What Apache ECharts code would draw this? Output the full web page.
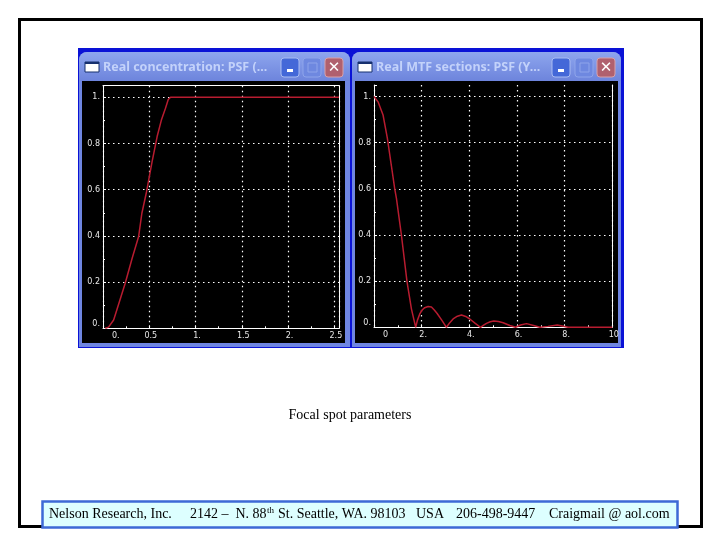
<!DOCTYPE html>
<html>
<head>
<meta charset="utf-8">
<title>Focal spot parameters</title>
<style>
html,body{margin:0;padding:0;background:#fff}
#chart{width:720px;height:540px}
</style>
<script src="https://cdn.jsdelivr.net/npm/echarts@6/dist/echarts.min.js"></script>
</head>
<body>
<div id="chart"></div>
<script>
// values
var concentrationX = [0.025,0.06,0.115,0.15,0.24,0.315,0.385,0.42,0.47,0.53,0.585,0.63,0.675,0.705,0.73,2.55];
var concentrationY = [0,0.005,0.036,0.08,0.195,0.303,0.397,0.498,0.59,0.72,0.83,0.90,0.952,0.99,1,1];
var mtfX = [0,0.08,0.17,0.38,0.56,0.73,0.87,0.94,1.15,1.385,1.57,1.75,1.82,1.92,2.02,2.13,2.27,2.41,2.53,2.65,2.85,3.04,3.18,3.32,3.5,3.67,3.85,4.02,4.25,4.47,4.6,4.72,4.88,5.03,5.22,5.42,5.7,5.94,6.15,6.4,6.7,6.96,7.3,7.69,7.9,8.15,10];
var mtfY = [1,0.995,0.977,0.92,0.82,0.70,0.60,0.56,0.40,0.198,0.08,0,0.03,0.058,0.075,0.085,0.09,0.088,0.075,0.06,0.03,0,0.02,0.036,0.048,0.053,0.047,0.036,0.017,0,0.009,0.017,0.024,0.027,0.025,0.02,0.008,0,0.01,0.016,0.008,0,0.004,0.01,0.006,0,0];
var leftXLabels = ['0.','0.5','1.','1.5','2.','2.5'];
var rightXLabels = ['0','2.','4.','6.','8.','10'];
var yLabels = ['0.','0.2','0.4','0.6','0.8','1.'];
var leftTitle = 'Real concentration: PSF (...';
var rightTitle = 'Real MTF sections: PSF (Y...';
var caption = 'Focal spot parameters';

function pairs(xs,ys){
    return xs.map(function(x,i){return [x,ys[i]]})
}

function makeXAxis(gridIndex,max,interval,labels,showMax){
    return {
        type:'value',gridIndex:gridIndex,min:0,max:max,interval:interval,
        axisLine:{show:true,onZero:false,lineStyle:{color:'#fff',width:1}},
        axisTick:{show:true,inside:true,length:3,lineStyle:{color:'#fff'}},
        minorTick:{show:true,splitNumber:2,length:2,lineStyle:{color:'#fff'}},
        splitLine:{show:true,lineStyle:{color:'#fff',width:1.2,type:[1.5,3.5]}},
        axisLabel:{
            color:'#e8e8e8',fontSize:8,margin:4,fontFamily:'DejaVu Sans',showMaxLabel:showMax,
            hideOverlap:false,alignMinLabel:'left',padding:[0,0,0,3],
            rich:{first:{padding:[0,0,0,6],fontSize:8,color:'#e8e8e8',fontFamily:'DejaVu Sans'}},
            formatter:function(v,i){return i===0?'{first|'+labels[i]+'}':labels[i]}
        }
    }
}

function makeYAxis(gridIndex){
    return {
        type:'value',gridIndex:gridIndex,min:0,max:1.05,interval:0.2,
        axisLine:{show:true,onZero:false,lineStyle:{color:'#fff',width:1}},
        axisTick:{show:true,inside:true,length:3,lineStyle:{color:'#fff'}},
        minorTick:{show:true,splitNumber:2,length:2,lineStyle:{color:'#fff'}},
        splitLine:{show:true,showMaxLine:false,lineStyle:{color:'#fff',width:1.2,type:[1.5,3.5]}},
        axisLabel:{
            color:'#e8e8e8',fontSize:8,margin:3,fontFamily:'DejaVu Sans',showMaxLabel:false,
            hideOverlap:false,verticalAlignMinLabel:'bottom',
            formatter:function(v,i){return yLabels[i]}
        }
    }
}

// bare axis used only as the white edge of a plot box
function edgeAxis(gridIndex,position,max){
    return {
        type:'value',gridIndex:gridIndex,position:position,min:0,max:max,
        axisLine:{show:true,onZero:false,lineStyle:{color:'#fff',width:1}},axisTick:{show:false},
        axisLabel:{show:false},splitLine:{show:false}
    }
}

function box(x,y,w,h,fill,r,stroke,lw){
    return {type:'rect',silent:true,shape:{x:x,y:y,width:w,height:h,r:r||0},
        style:{fill:fill,stroke:stroke||null,lineWidth:lw||0}}
}

function gradient(a,b){
    return new echarts.graphic.LinearGradient(0,0,0,1,[{offset:0,color:a},{offset:1,color:b}])
}

function label(x,y,text,font,fill,extra){
    return {type:'text',silent:true,x:x,y:y,style:Object.assign({text:text,font:font,fill:fill},extra||{})}
}

// one fake window: frame, title bar, icon, three buttons, black plot area
function makeWindow(x,w,plotX,plotW,title,titleX,minX,maxX,closeX){
    return [
        box(x,52,w,295,'#6f86e2',[8,8,0,0]),
        box(x,52,w,29,gradient('#8ea6ee','#6d84dc'),[8,8,0,0]),
        box(plotX,81,plotW,262,'#000'),
        box(titleX-18,62,14,10,'#fff',0,'#16306e',1),
        box(titleX-18,62,14,2,'#16306e'),
        label(titleX,61,title,'bold 12.5px "Noto Sans"','#c3d2fa'),
        box(minX,58,18,19,'#4468d8',3,'#a9bcf2',1),
        box(minX+6,69,6,3,'#fff'),
        box(maxX,58,18,19,'#6e88e0',3,'#8ea4ea',1),
        box(maxX+5,63,9,9,'#6e88e0',0,'#8ea4ea',1),
        box(closeX,58,18,19,'#b0606e',3,'#d8a0a8',1),
        label(closeX+9,68,'✕','bold 15px "DejaVu Sans"','#fff',{align:'center',verticalAlign:'middle'})
    ]
}

var elements = [
    box(19.5,19.5,682,507,'#fff',0,'#000',3),
    box(78,48,546,300,'#0a12d6')
]
.concat(makeWindow(79,271,82,263,leftTitle,103,281,303,325))
.concat(makeWindow(352,269,355,263,rightTitle,376,552,575,597))
.concat([
    label(350,408,caption,'14px "Liberation Serif"','#000',{align:'center'}),
    box(42.5,501.5,635,26,'#ddffff',0,'#3d6ad6',2.5),
    label(49,507.5,'Nelson Research, Inc.','14px "Liberation Serif"','#000'),
    label(190,507.5,'2142 –  N. 88','14px "Liberation Serif"','#000'),
    label(267,506.5,'th','9px "Liberation Serif"','#000'),
    label(278,507.5,'St. Seattle, WA. 98103','14px "Liberation Serif"','#000'),
    label(416,507.5,'USA','14px "Liberation Serif"','#000'),
    label(456,507.5,'206-498-9447','14px "Liberation Serif"','#000'),
    label(549,507.5,'Craigmail @ aol.com','14px "Liberation Serif"','#000')
]);

var chart = echarts.init(document.getElementById('chart'));
chart.setOption({
    animation:false,
    backgroundColor:'#fff',
    graphic:{z:-1,elements:elements},
    grid:[
        {left:103,top:85.7,width:236,height:242.6,show:false},
        {left:374,top:85,width:238.3,height:242.3,show:false}
    ],
    xAxis:[
        makeXAxis(0,2.55,0.5,leftXLabels,false),
        makeXAxis(1,10,2,rightXLabels,true),
        edgeAxis(0,'top',2.55)
    ],
    yAxis:[
        makeYAxis(0),
        makeYAxis(1),
        edgeAxis(1,'right',1.05),
        edgeAxis(0,'right',1.05)
    ],
    series:[
        {type:'line',xAxisIndex:0,yAxisIndex:0,data:pairs(concentrationX,concentrationY),showSymbol:false,
            lineStyle:{color:'#b81c30',width:1.5},z:5},
        {type:'line',xAxisIndex:1,yAxisIndex:1,data:pairs(mtfX,mtfY),showSymbol:false,
            lineStyle:{color:'#b81c30',width:1.5},z:5}
    ]
});
</script>
</body>
</html>
